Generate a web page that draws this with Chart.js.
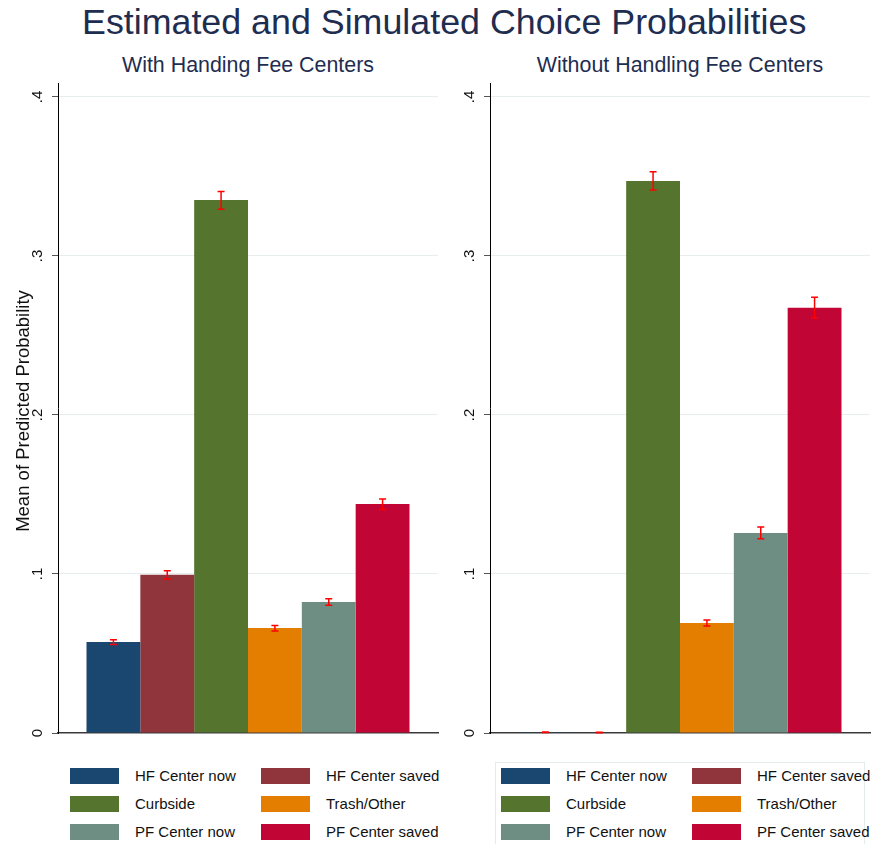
<!DOCTYPE html>
<html>
<head>
<meta charset="utf-8">
<script src="https://cdn.jsdelivr.net/npm/chart.js@4.4.1/dist/chart.umd.min.js"></script>
<style>
  body { margin: 0; background: #fff; font-family: "Liberation Sans", Arial, sans-serif; }
  #wrap { position: relative; width: 873px; height: 844px; overflow: hidden; }
  canvas { position: absolute; top: 0; }
  .title { position: absolute; left: 82px; top: 4px; font-size: 35.8px; line-height: 36px; color: #1e2d50; white-space: nowrap; }
  .sub { position: absolute; top: 55px; font-size: 21.4px; line-height: 21px; color: #1e2d50; text-align: center; white-space: nowrap; }
  .legend { position: absolute; top: 762px; height: 90px; }
  .legend.boxed { border: 1px solid #e3ecec; }
  .item { position: absolute; height: 16px; font-size: 15px; line-height: 16px; color: #111; white-space: nowrap; }
  .item span.sw { position: absolute; left: 0; top: 0; width: 49px; height: 16px; }
  .item span.tx { position: absolute; left: 65px; top: 0; }
</style>
</head>
<body>
<div id="wrap">
  <div class="title">Estimated and Simulated Choice Probabilities</div>
  <div class="sub" style="left:58px;width:380px;">With Handing Fee Centers</div>
  <div class="sub" style="left:490px;width:380px;">Without Handling Fee Centers</div>
  <canvas id="left" width="445" height="750" style="left:0"></canvas>
  <canvas id="right" width="428" height="750" style="left:445px"></canvas>
  <div class="legend" id="legLeft" style="left:70px;width:330px;"></div>
  <div class="legend boxed" id="legRight" style="left:495px;width:368px;"></div>
</div>
<script>
// categories and colours (Stata s2color)
const outcomes = ["HF Center now", "HF Center saved", "Curbside", "Trash/Other", "PF Center now", "PF Center saved"];
const colors = ["#1a476f", "#90353b", "#55752f", "#e37e00", "#6e8e84", "#c10534"];

// panel 1: with handling fee centers
const withMean = [0.0572, 0.0995, 0.3352, 0.0660, 0.0824, 0.1440];
const withLo   = [0.0556, 0.0969, 0.3294, 0.0642, 0.0803, 0.1405];
const withHi   = [0.0586, 0.1021, 0.3405, 0.0676, 0.0845, 0.1472];

// panel 2: without handling fee centers
const withoutMean = [0.0005, 0.0003, 0.3472, 0.0692, 0.1258, 0.2674];
const withoutLo   = [0.0003, 0.0001, 0.3415, 0.0673, 0.1222, 0.2610];
const withoutHi   = [0.0007, 0.0005, 0.3530, 0.0711, 0.1296, 0.2740];

const yTicks = [0, 0.1, 0.2, 0.3, 0.4];
const yTickLabels = ["0", ".1", ".2", ".3", ".4"];
const yTitle = "Mean of Predicted Probability";

const errorBars = {
  id: "errorBars",
  afterDatasetsDraw(chart, args, opts) {
    const ctx = chart.ctx;
    const y = chart.scales.y;
    ctx.save();
    ctx.strokeStyle = "#ff0000";
    ctx.lineWidth = 1.5;
    chart.data.datasets.forEach((ds, i) => {
      const bar = chart.getDatasetMeta(i).data[0];
      const x = bar.x;
      const top = y.getPixelForValue(opts.hi[i]);
      const bot = y.getPixelForValue(opts.lo[i]);
      ctx.beginPath();
      ctx.moveTo(x, top); ctx.lineTo(x, bot);
      ctx.moveTo(x - 3.5, top); ctx.lineTo(x + 3.5, top);
      ctx.moveTo(x - 3.5, bot); ctx.lineTo(x + 3.5, bot);
      ctx.stroke();
    });
    ctx.restore();
  }
};

// rotated tick labels and axis title, Stata style
const yText = {
  id: "yText",
  afterDraw(chart, args, opts) {
    const ctx = chart.ctx;
    const y = chart.scales.y;
    ctx.save();
    ctx.fillStyle = "#111";
    ctx.textAlign = "center";
    ctx.textBaseline = "middle";
    ctx.font = "15px 'Liberation Sans', Arial, sans-serif";
    yTicks.forEach((v, i) => {
      ctx.save();
      ctx.translate(opts.labelX, y.getPixelForValue(v));
      ctx.rotate(-Math.PI / 2);
      ctx.fillText(yTickLabels[i], 0, 0);
      ctx.restore();
    });
    if (opts.title) {
      ctx.font = "18.5px 'Liberation Sans', Arial, sans-serif";
      ctx.translate(opts.titleX, 411);
      ctx.rotate(-Math.PI / 2);
      ctx.fillText(opts.title, 0, 0);
    }
    ctx.restore();
  }
};

function makePanel(id, means, lo, hi, axisWidth, padRight, labelX, title) {
  const datasets = outcomes.map((name, i) => ({
    label: name,
    data: [means[i]],
    backgroundColor: colors[i],
    borderWidth: 0,
    barPercentage: 1,
    categoryPercentage: 0.85
  }));
  return new Chart(document.getElementById(id), {
    type: "bar",
    data: { labels: [""], datasets: datasets },
    options: {
      responsive: false,
      animation: false,
      devicePixelRatio: 1,
      layout: { padding: { top: 83, bottom: 17, left: 0, right: padRight } },
      plugins: {
        legend: { display: false },
        tooltip: { enabled: false },
        errorBars: { lo: lo, hi: hi },
        yText: { labelX: labelX, titleX: 24, title: title }
      },
      scales: {
        x: {
          ticks: { display: false },
          grid: { display: false },
          border: { display: true, color: "#3a3a3a", width: 1.5 },
          afterFit(scale) { scale.height = 0; }
        },
        y: {
          min: 0,
          max: 0.4088,
          afterBuildTicks(scale) { scale.ticks = yTicks.map(v => ({ value: v })); },
          ticks: { display: false },
          grid: {
            color: c => (c.tick && c.tick.value === 0 ? "rgba(0,0,0,0)" : "#e6eef0"),
            tickColor: "#555",
            tickLength: 6,
            lineWidth: 1
          },
          border: { display: true, color: "#000", width: 1 },
          afterFit(scale) { scale.width = axisWidth; }
        }
      }
    },
    plugins: [errorBars, yText]
  });
}

makePanel("left", withMean, withLo, withHi, 58, 7, 38, yTitle);
makePanel("right", withoutMean, withoutLo, withoutHi, 45, 3, 25, null);

// legends: two columns, three rows
function buildLegend(id, col2Left) {
  const el = document.getElementById(id);
  const boxed = id === "legRight";
  const offsetX = boxed ? 5 : 0;
  const offsetY = boxed ? 5 : 6;
  outcomes.forEach((name, i) => {
    const row = Math.floor(i / 2);
    const col = i % 2;
    const item = document.createElement("div");
    item.className = "item";
    item.style.left = (offsetX + col * col2Left) + "px";
    item.style.top = (offsetY + row * 28) + "px";
    item.innerHTML = '<span class="sw" style="background:' + colors[i] + '"></span><span class="tx">' + name + "</span>";
    el.appendChild(item);
  });
}
buildLegend("legLeft", 191);
buildLegend("legRight", 191);
</script>
</body>
</html>
